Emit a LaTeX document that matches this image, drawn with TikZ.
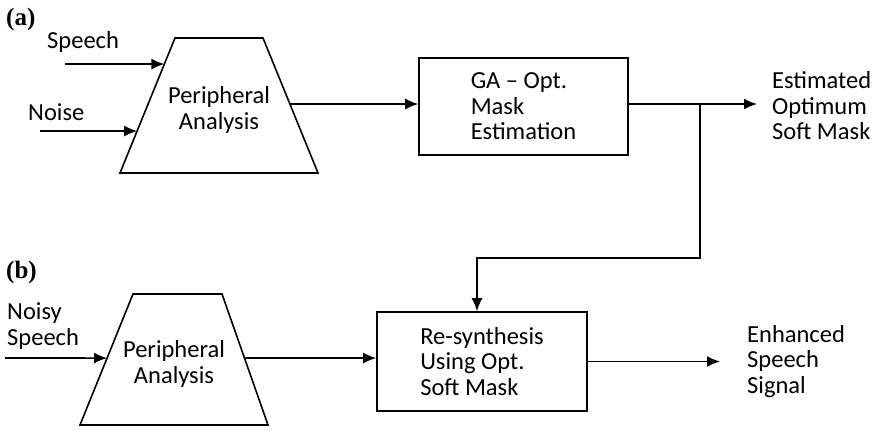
\documentclass[tikz,border=0pt]{standalone}
\usepackage{fontspec}
\usepackage{tikz}
\usetikzlibrary{calc,arrows.meta}
\setmainfont{Carlito}
\newfontfamily\lblfont{Liberation Serif}

\tikzset{
  txt/.style = {font=\fontsize{24.5}{25.5}\selectfont, align=left, inner sep=0pt},
  lbl/.style = {font=\lblfont\bfseries\fontsize{25}{26}\selectfont, inner sep=0pt, anchor=west},
  outline/.style = {draw, line width=1.6pt, line join=miter},
  blk/.style = {draw, line width=1.6pt, rectangle, inner sep=0pt},
  flow/.style = {line width=1.6pt, -{Latex[length=13pt,width=11pt]}}
}

\begin{document}
\begin{tikzpicture}[x=1pt, y=-1pt]
 \useasboundingbox (0,0) rectangle (881,431);
 % (a) estimation
 \node[lbl] (lbla) at (6,19) {(a)};
 \node[txt, anchor=west] (speech) at (47,42) {Speech};
 \node[txt, anchor=west] (noise) at (28,112) {Noise};
 \coordinate (bl1) at (120,173);
 \coordinate (tl1) at (175,38);
 \coordinate (tr1) at (263,38);
 \coordinate (br1) at (318,173);
 \draw[outline] (bl1) -- (tl1) -- (tr1) -- (br1) -- cycle;
 \node[txt, align=center] (pa1) at (219,110) {Peripheral\\Analysis};
 \node[blk, minimum width=209pt, minimum height=97pt] (ga) at (523.5,106.5) {};
 \node[txt] (gatxt) at (ga.center) {GA -- Opt.\\Mask\\Estimation};
 \coordinate (sp) at (65,64);
 \coordinate (ns) at (40,131);
 \coordinate (out1) at ($(br1)!0.511!(tr1)$);
 \coordinate (jn) at (700,0 |- out1);
 \coordinate (est) at (757,0 |- out1);
 \node[txt, anchor=west] (esttxt) at (772,106) {Estimated\\Optimum\\Soft Mask};
 \draw[flow] (sp) -- ($(bl1)!0.807!(tl1)$);
 \draw[flow] (ns) -- ($(bl1)!0.311!(tl1)$);
 \draw[flow] (out1) -- (out1 -| ga.west);
 \draw[flow] (out1 -| ga.east) -- (est);
 % (b) enhancement
 \node[lbl] (lblb) at (6,272) {(b)};
 \node[txt, anchor=west] (noisy) at (7,326) {Noisy\\Speech};
 \coordinate (bl2) at (80,425);
 \coordinate (tl2) at (133,294);
 \coordinate (tr2) at (222,294);
 \coordinate (br2) at (268,425);
 \draw[outline] (bl2) -- (tl2) -- (tr2) -- (br2) -- cycle;
 \node[txt, align=center] (pa2) at (174,364) {Peripheral\\Analysis};
 \node[blk, minimum width=210pt, minimum height=99pt] (rs) at (482,361.5) {};
 \node[txt] (rstxt) at (rs.center) {Re-synthesis\\Using Opt.\\Soft Mask};
 \coordinate (in2) at (5,358);
 \coordinate (out2) at ($(br2)!0.511!(tr2)$);
 \coordinate (enh) at (720,0 |- rs.center);
 \node[txt, anchor=west] (enhtxt) at (747,361.5) {Enhanced\\Speech\\Signal};
 \draw[flow] (in2) -- ($(bl2)!0.511!(tl2)$);
 \draw[flow] (out2) -- (out2 -| rs.west);
 \draw[flow] (rs.east) -- (enh);
 \draw[flow] (jn) -- ++(0,154) -| ([xshift=-5pt]rs.north);
\end{tikzpicture}
\end{document}
